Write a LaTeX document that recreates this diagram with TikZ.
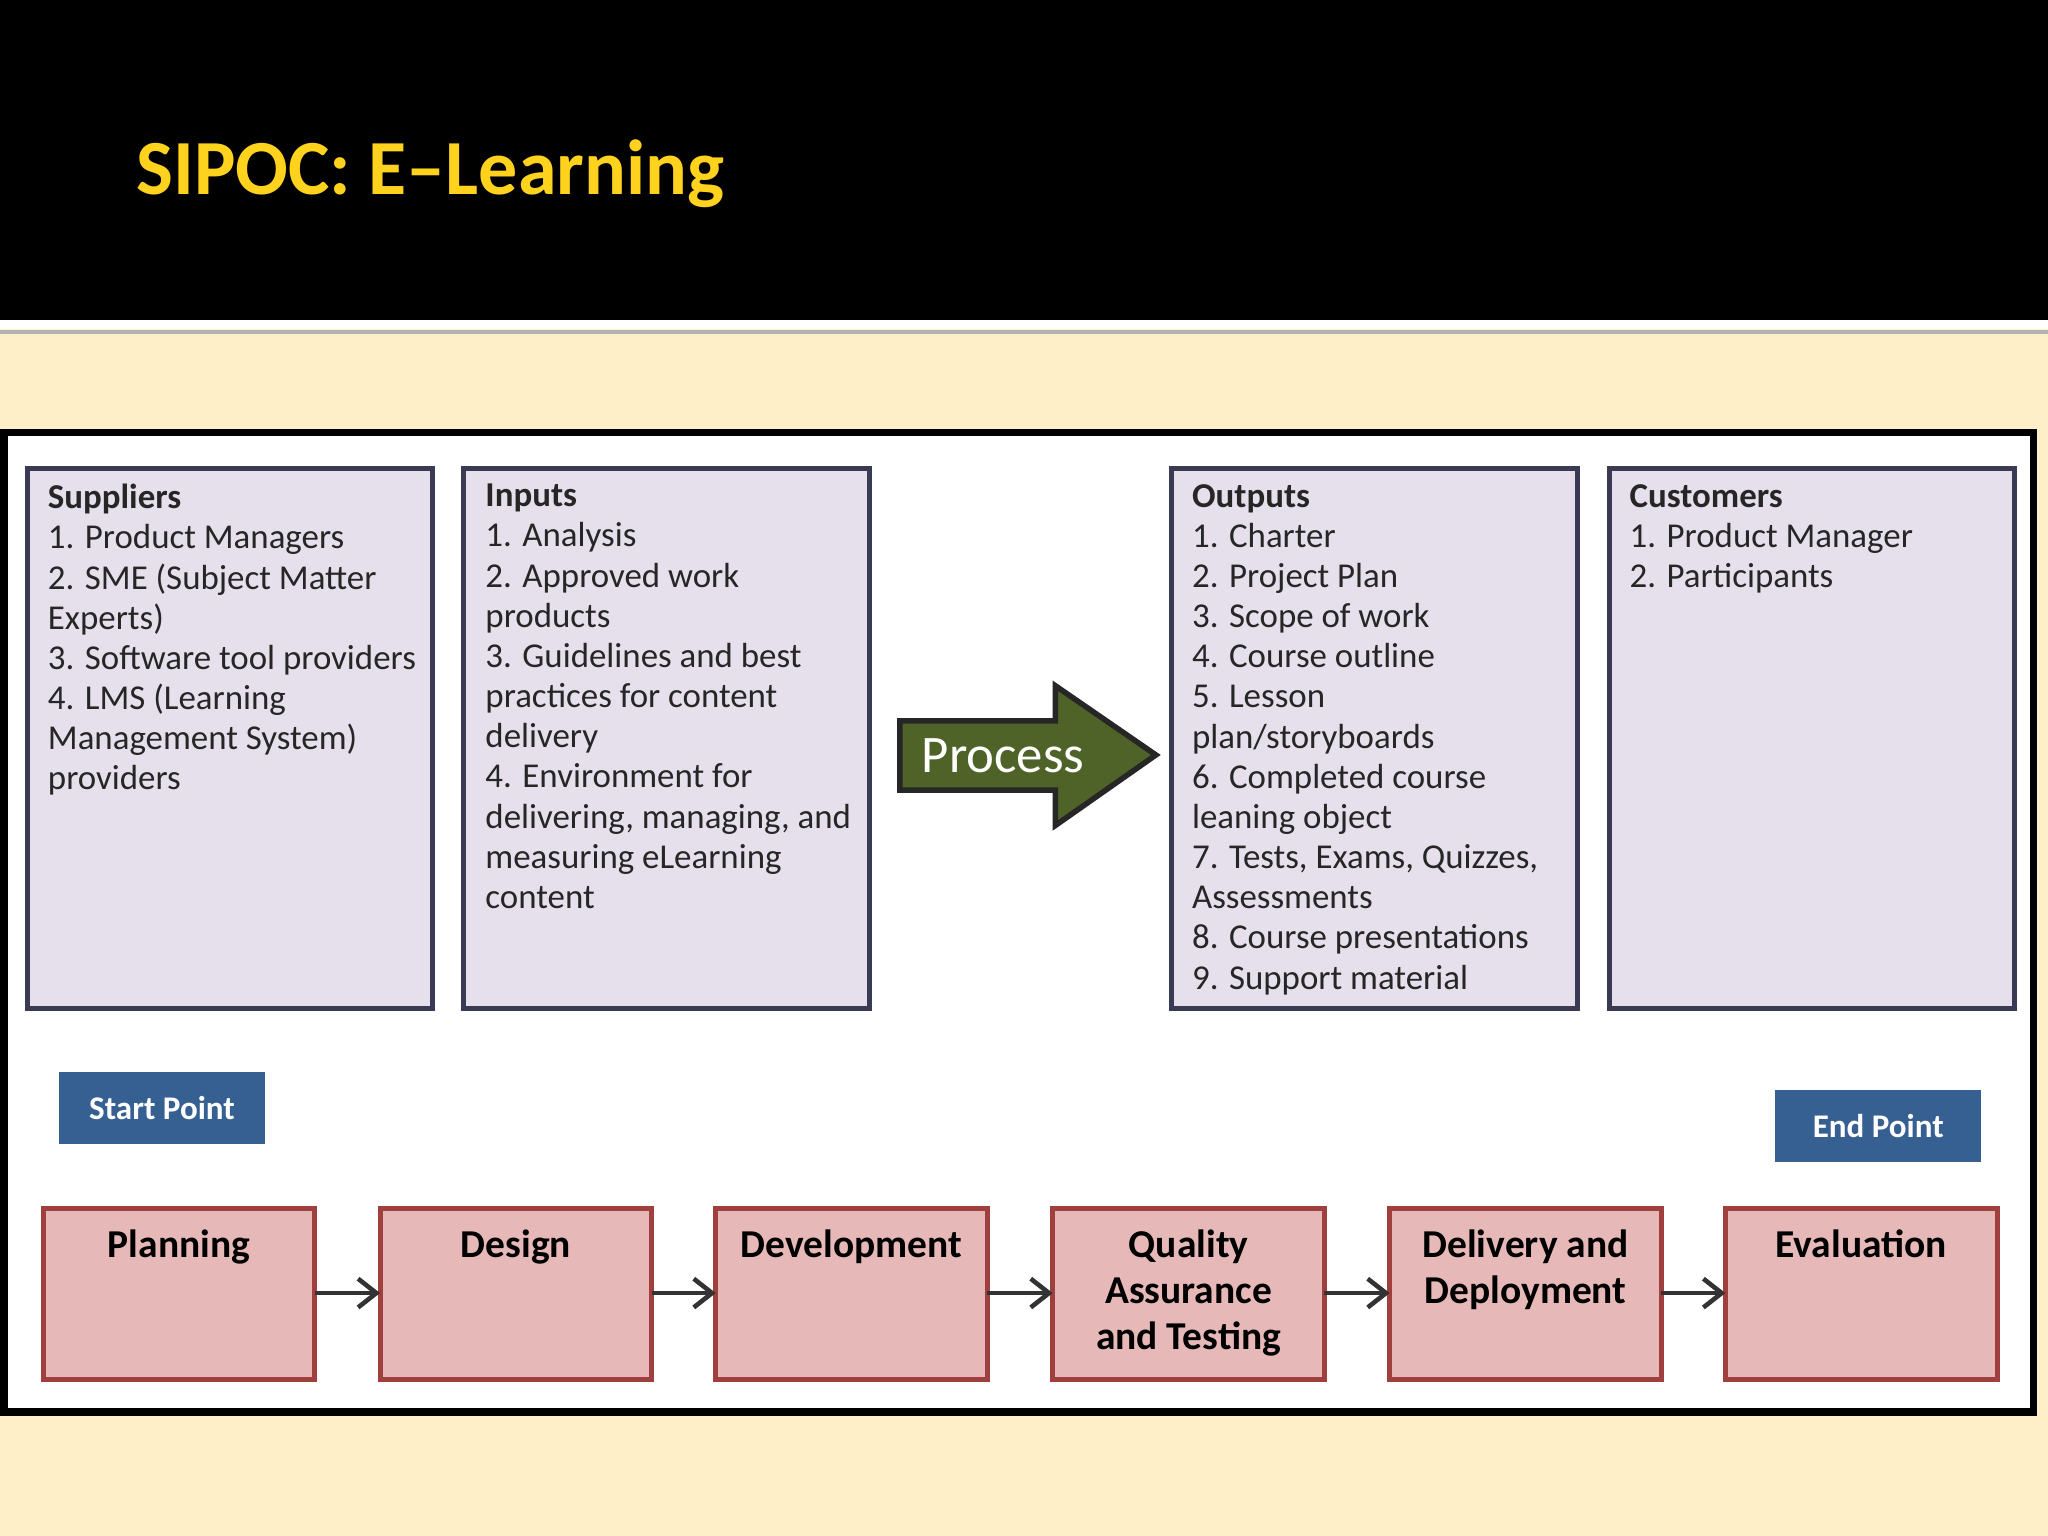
\documentclass[tikz,border=0pt]{standalone}
\usepackage{fontspec}
\setmainfont{Carlito}
\usetikzlibrary{shapes.arrows}
\definecolor{cream}{HTML}{FFEFC8}
\definecolor{lav}{HTML}{E6E0EC}
\definecolor{lavb}{HTML}{3B3A55}
\definecolor{pinkf}{HTML}{E6B9B8}
\definecolor{pinkb}{HTML}{A0403E}
\definecolor{bluef}{HTML}{376092}
\definecolor{greenf}{HTML}{4F6228}
\definecolor{ttl}{HTML}{FFD21E}
\tikzset{
 sbox/.style={draw=lavb,fill=lav,line width=1.1pt},
 stxt/.style={anchor=north west,align=left,inner sep=0pt,font=\fontsize{7.6}{8.75}\selectfont,text=black!85},
 pbox/.style={draw=pinkb,fill=pinkf,line width=1.1pt},
 ptxt/.style={anchor=north,align=center,inner sep=0pt,font=\fontsize{8.6}{10}\selectfont\bfseries},
 bbtn/.style={fill=bluef,text=white,font=\fontsize{7.2}{8}\selectfont\bfseries,inner sep=0pt,minimum width=15.8mm,minimum height=5.5mm},
 parr/.style={-{Straight Barb[length=1.4mm,width=2.2mm]},line width=1pt,draw=black!80}
}
\usetikzlibrary{arrows.meta}
\begin{document}
\begin{tikzpicture}[x=0.1mm,y=-0.1mm]
\useasboundingbox (0,0) rectangle (1568,1176);
\fill[cream] (0,0) rectangle (1568,1176);
\fill[black] (0,0) rectangle (1568,245);
\fill[white] (0,245) rectangle (1568,252);
\fill[gray!60] (0,253) rectangle (1568,256);
\node[anchor=west,text=ttl,font=\fontsize{17}{20}\selectfont\bfseries] (title) at (92,133) {SIPOC: E–Learning};
\draw[fill=white,line width=1.6pt] (3,331) rectangle (1557,1081);
% SIPOC boxes
\draw[sbox] (21,359) rectangle (331,772);
\draw[sbox] (355,359) rectangle (666,772);
\draw[sbox] (897,359) rectangle (1208,772);
\draw[sbox] (1232,359) rectangle (1542,772);
\node[stxt] (sup) at (36,370) {\textbf{Suppliers}\\1. Product Managers\\2. SME (Subject Matter\\Experts)\\3. Software tool providers\\4. LMS (Learning\\Management System)\\providers};
\node[stxt] (inp) at (371,370) {\textbf{Inputs}\\1. Analysis\\2. Approved work\\products\\3. Guidelines and best\\practices for content\\delivery\\4. Environment for\\delivering, managing, and\\measuring eLearning\\content};
\node[stxt] (out) at (912,370) {\textbf{Outputs}\\1. Charter\\2. Project Plan\\3. Scope of work\\4. Course outline\\5. Lesson\\plan/storyboards\\6. Completed course\\leaning object\\7. Tests, Exams, Quizzes,\\Assessments\\8. Course presentations\\9. Support material};
\node[stxt] (cus) at (1247,370) {\textbf{Customers}\\1. Product Manager\\2. Participants};
% process arrow
\draw[fill=greenf,draw=black!85,line width=1.2pt] (689,552) -- (808,552) -- (808,525) -- (885,578) -- (808,632) -- (808,605) -- (689,605) -- cycle;
\node[text=white,font=\fontsize{11.5}{13}\selectfont] (proc) at (768,579) {Process};
% buttons
\node[bbtn] (sp) at (124,848) {Start Point};
\node[bbtn] (ep) at (1438,862) {End Point};
% bottom boxes
\foreach \n/\a/\t in {b1/33/Planning,b2/291/Design,b3/548/Development,b4/806/{Quality\\Assurance\\and Testing},b5/1064/{Delivery and\\Deployment},b6/1321/Evaluation}{
 \draw[pbox] (\a,925) rectangle ++(208,131);
 \coordinate (\n) at (\a+104,990);
 \coordinate (\n w) at (\a,990);
 \coordinate (\n e) at (\a+208,990);
 \node[ptxt] (\n t) at (\a+104,941) {\t};
}
\foreach \p/\q in {b1/b2,b2/b3,b3/b4,b4/b5,b5/b6}{
 \draw[parr] (\p e) -- (\q w);
}
\end{tikzpicture}
\end{document}
